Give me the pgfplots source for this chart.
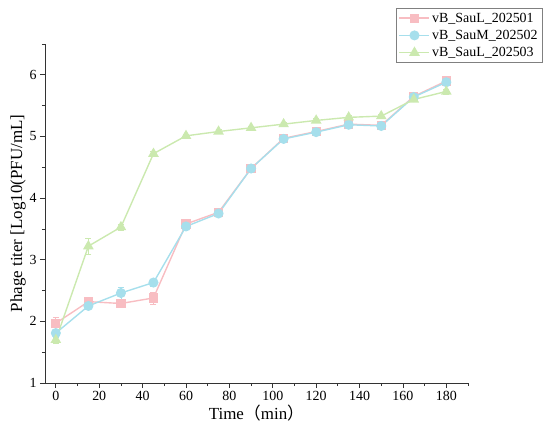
\documentclass[border=0pt]{standalone}
\usepackage{pgfplots}
\pgfplotsset{compat=1.18}
\usepackage{pgfplotstable}
\usepackage{fontspec}
\setmainfont{Liberation Serif}
\newfontfamily\cjk{Noto Sans CJK SC}
\definecolor{cR}{HTML}{F8BDC2}
\definecolor{cB}{HTML}{A6DFEC}
\definecolor{cG}{HTML}{CBE9AF}
\pgfplotstableread{
t y e
0 1.97 0.09
15 2.32 0.05
30 2.29 0.06
45 2.38 0.10
60 3.58 0.04
75 3.77 0.03
90 4.48 0.03
105 4.97 0.03
120 5.08 0.03
135 5.20 0.03
150 5.18 0.03
165 5.65 0.04
180 5.90 0.04
}\red
\pgfplotstableread{
t y e
0 1.81 0.06
15 2.25 0.05
30 2.46 0.10
45 2.63 0.06
60 3.54 0.04
75 3.75 0.03
90 4.48 0.03
105 4.96 0.03
120 5.07 0.03
135 5.19 0.03
150 5.17 0.03
165 5.64 0.03
180 5.88 0.04
}\blue
\pgfplotstableread{
t y e
0 1.70 0.06
15 3.22 0.13
30 3.53 0.05
45 4.72 0.04
60 5.01 0.03
75 5.08 0.03
90 5.14 0.03
105 5.20 0.03
120 5.26 0.03
135 5.31 0.03
150 5.33 0.03
165 5.60 0.03
180 5.73 0.04
}\green
\begin{document}
\begin{tikzpicture}
\path[use as bounding box] (-45bp,-53bp) rectangle (505bp,383bp);
\begin{axis}[
  at={(0,0)}, anchor=south west,
  scale only axis, width=423bp, height=339bp,
  xmin=-5, xmax=190, ymin=1, ymax=6.5,
  axis x line*=bottom, axis y line*=left,
  axis line style={black!80, line width=0.8pt},
  xtick={0,20,...,180}, minor xtick={10,30,...,190},
  ytick={1,2,3,4,5,6}, minor ytick={1.5,2.5,...,6.5},
  tick align=outside,
  major tick length=5bp, minor tick length=3bp,
  tick style={black!80, line width=0.7pt},
  /pgf/number format/assume math mode=true,
  ticklabel style={font=\fontsize{14}{16}\selectfont},
  xlabel={Time{\cjk （}min{\cjk ）}},
  ylabel={Phage titer [Log10(PFU/mL]},
  label style={font=\fontsize{17}{19}\selectfont},
  xlabel style={yshift=3bp},
  ylabel style={yshift=-3bp},
  legend cell align=left,
  legend style={at={(0.830,1.106)}, anchor=north west,
    draw=black!50, font=\fontsize{14}{16}\selectfont,
    row sep=2.5bp, inner sep=2.5bp},
  legend image code/.code={\draw[mark repeat=2,mark phase=2,#1] plot coordinates {(0bp,0bp) (15bp,0bp) (30bp,0bp)};},
]
\addplot[cR, line width=1.4pt, mark=square*, mark size=3.9bp, mark options={solid,fill=cR,draw=cR},
  error bars/.cd, y dir=both, y explicit, error bar style={cR,line width=0.8pt}, error mark options={rotate=90,mark size=3bp,cR}]
  table[x=t,y=y,y error=e]{\red};
\addlegendentry{vB\_SauL\_202501}
\addplot[cB, line width=1.4pt, mark=*, mark size=4.3bp, mark options={solid,fill=cB,draw=cB},
  error bars/.cd, y dir=both, y explicit, error bar style={cB,line width=0.8pt}, error mark options={rotate=90,mark size=3bp,cB}]
  table[x=t,y=y,y error=e]{\blue};
\addlegendentry{vB\_SauM\_202502}
\addplot[cG, line width=1.4pt, mark=triangle*, mark size=4.8bp, mark options={solid,fill=cG,draw=cG},
  error bars/.cd, y dir=both, y explicit, error bar style={cG,line width=0.8pt}, error mark options={rotate=90,mark size=3bp,cG}]
  table[x=t,y=y,y error=e]{\green};
\addlegendentry{vB\_SauL\_202503}
\end{axis}
\end{tikzpicture}
\end{document}
